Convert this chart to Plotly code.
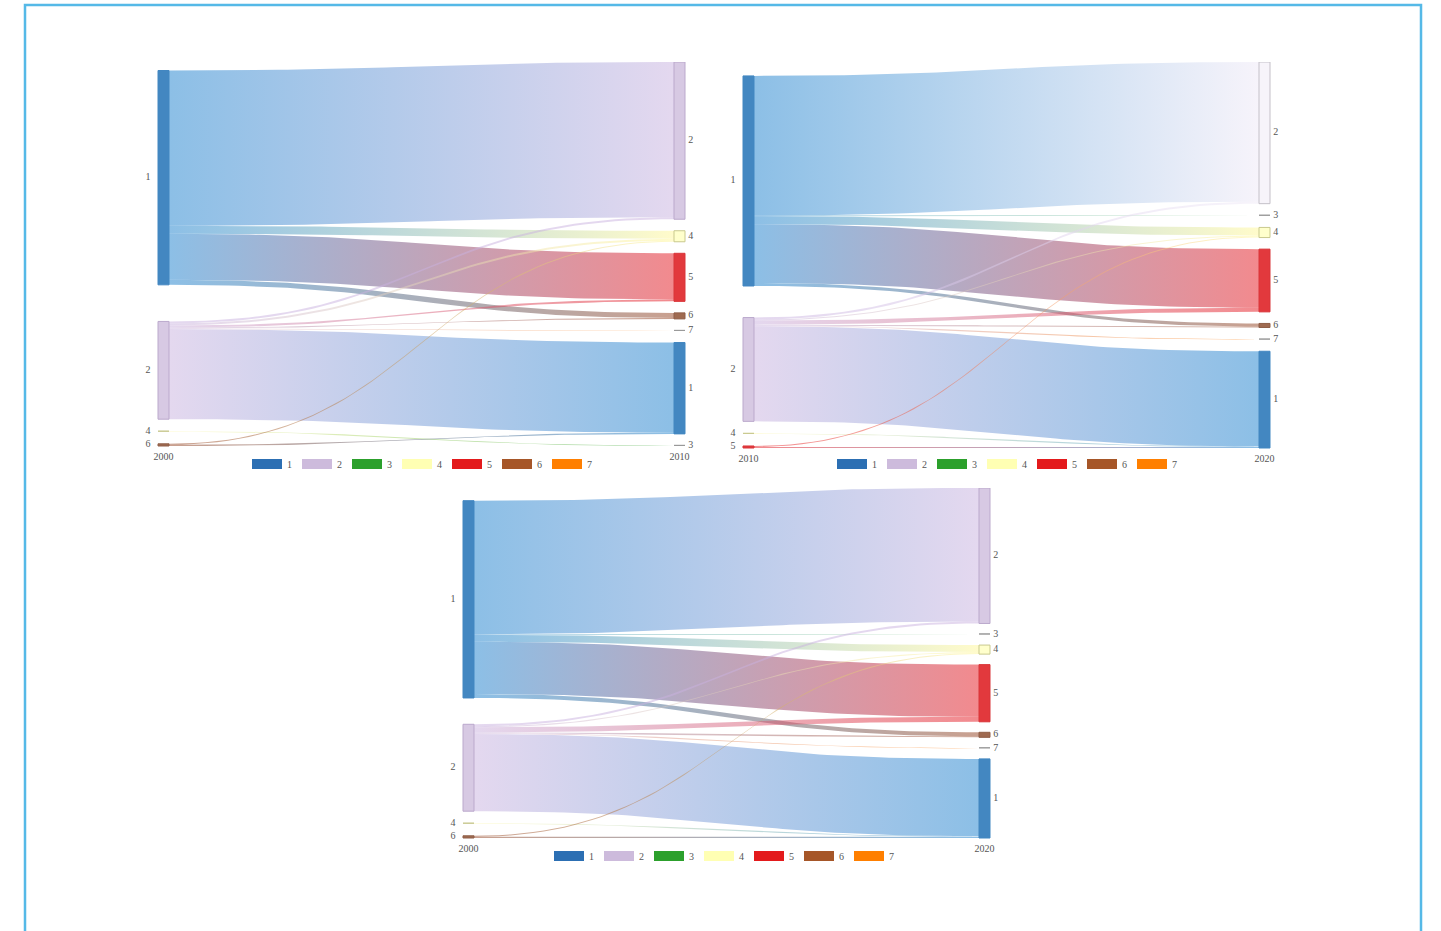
import numpy as np
import plotly.graph_objects as go

FIG_W, FIG_H = 1441, 931

# ---------------------------------------------------------------- data
categories = ['1', '2', '3', '4', '5', '6', '7']

# 2000 -> 2010
p1_years = ['2000', '2010']
p1_left = ['1', '2', '4', '6']
p1_right = ['2', '4', '5', '6', '7', '1', '3']
p1_src = ['1', '1', '1', '1', '2', '2', '2', '2', '2', '2', '4', '6', '6']
p1_tgt = ['2', '4', '5', '6', '1', '2', '4', '5', '6', '7', '3', '4', '1']
p1_val = [155, 8, 46, 5, 90, 2, 2, 2, 1, 0.6, 0.6, 1, 1.2]

# 2010 -> 2020
p2_years = ['2010', '2020']
p2_left = ['1', '2', '4', '5']
p2_right = ['2', '3', '4', '5', '6', '7', '1']
p2_src = ['1', '1', '1', '1', '1', '2', '2', '2', '2', '2', '2', '4', '5', '5']
p2_tgt = ['2', '3', '4', '5', '6', '1', '2', '4', '5', '6', '7', '1', '4', '1']
p2_val = [138, 0.6, 8, 58, 3, 94, 2, 1, 4, 1, 0.6, 0.6, 1, 1]

# 2000 -> 2020
p3_years = ['2000', '2020']
p3_left = ['1', '2', '4', '6']
p3_right = ['2', '3', '4', '5', '6', '7', '1']
p3_src = ['1', '1', '1', '1', '1', '2', '2', '2', '2', '2', '2', '4', '6', '6']
p3_tgt = ['2', '3', '4', '5', '6', '1', '2', '4', '5', '6', '7', '1', '4', '1']
p3_val = [133, 0.6, 7, 52, 4, 77, 2, 1, 5, 1, 0.6, 0.6, 1, 1.2]

# ---------------------------------------------------------------- styles
FONT = 'Liberation Serif'
legend_color = {'1': '#2c6fb3', '2': '#cdbbdc', '3': '#2ca02c', '4': '#ffffb3',
                '5': '#e31a1c', '6': '#a65628', '7': '#ff7f00'}
node_fill = {'1': '#4387c1', '2': '#d7c9e3', '3': '#7fc47f', '4': '#ffffcc',
             '5': '#e2393d', '6': '#9f6a50', '7': '#fdae6b'}
node_line = {'1': '#4387c1', '2': '#bba9cc', '3': '#999999', '4': '#c9c98e',
             '5': '#d9363a', '6': '#8f5f48', '7': '#999999'}
link_rgb = {'1': (25, 127, 205), '2': (201, 177, 223), '3': (44, 160, 44),
            '4': (255, 247, 150), '5': (229, 21, 29), '6': (147, 65, 31),
            '7': (255, 127, 14)}
LINK_ALPHA = 0.5
FILL_RATIO = 0.82
NODE_PX = 11
PAD_PX = 12
SIDE_PX = 30      # room for node labels beside each column
BELOW_PX = 22     # room for the year captions under the columns
YEAR_DROP_PX = 6

panels = [
    dict(years=p1_years, left=p1_left, right=p1_right, src=p1_src, tgt=p1_tgt,
         val=p1_val, box=(158, 685, 62, 446), legend='legend', legend_at=(422, 464)),
    dict(years=p2_years, left=p2_left, right=p2_right, src=p2_src, tgt=p2_tgt,
         val=p2_val, box=(743, 1270, 62, 448), legend='legend2', legend_at=(1007, 464),
         right_style={'2': dict(fill='#f7f4fa', line='#c4c0c8', rgb=(238, 232, 246))}),
    dict(years=p3_years, left=p3_left, right=p3_right, src=p3_src, tgt=p3_tgt,
         val=p3_val, box=(463, 990, 488, 838), legend='legend3', legend_at=(724, 856)),
]


def rgba(rgb, a):
    return 'rgba(%d,%d,%d,%.2f)' % (rgb[0], rgb[1], rgb[2], a)


def justify(nodes, totals, height):
    """Stack a column top to bottom with equal gaps filling the height."""
    s = sum(totals[n] for n in nodes)
    gap = (height - s) / (len(nodes) - 1)
    pos, y = {}, 0.0
    for n in nodes:
        pos[n] = [y, y + totals[n]]
        y += totals[n] + gap
    return pos


def relax(nodes, totals, partners, other_pos, height, pad):
    """Centre each node on its partners, then resolve overlaps in order."""
    want = {}
    for n in nodes:
        w = sum(v for _, v in partners[n])
        c = sum(v * (other_pos[o][0] + other_pos[o][1]) / 2 for o, v in partners[n]) / w
        want[n] = c - totals[n] / 2
    pos, y = {}, 0.0
    for n in nodes:
        y0 = max(want[n], y)
        pos[n] = [y0, y0 + totals[n]]
        y = y0 + totals[n] + pad
    limit = height
    for n in reversed(nodes):
        if pos[n][1] > limit:
            d = pos[n][1] - limit
            pos[n] = [pos[n][0] - d, pos[n][1] - d]
        limit = pos[n][0] - pad
    return pos


def bezier(xa, xb, ya, yb, t):
    xm = (xa + xb) / 2
    x = (1 - t) ** 3 * xa + 3 * (1 - t) ** 2 * t * xm + 3 * (1 - t) * t ** 2 * xm + t ** 3 * xb
    y = (1 - t) ** 3 * ya + 3 * (1 - t) ** 2 * t * ya + 3 * (1 - t) * t ** 2 * yb + t ** 3 * yb
    return x, y


fig = go.Figure()
layout_axes = {}
label_font = dict(family=FONT, size=10, color='#555555')

for i, p in enumerate(panels, start=1):
    xa_name = 'x' if i == 1 else 'x%d' % i
    ya_name = 'y' if i == 1 else 'y%d' % i
    px0, px1, py0, py1 = p['box']
    span_x = px1 - px0
    nw = NODE_PX / span_x
    side = SIDE_PX / span_x
    rstyle = p.get('right_style', {})

    links = list(zip(p['src'], p['tgt'], p['val']))
    out_tot = {n: 0.0 for n in p['left']}
    in_tot = {n: 0.0 for n in p['right']}
    partners = {n: [] for n in p['left']}
    for s, t, v in links:
        out_tot[s] += v
        in_tot[t] += v
        partners[s].append((t, v))
    H = max(sum(out_tot.values()), sum(in_tot.values())) / FILL_RATIO
    unit = H / (py1 - py0)          # data units per pixel, vertically
    rpos = justify(p['right'], in_tot, H)
    lpos = relax(p['left'], out_tot, partners, rpos, H, PAD_PX * unit)

    # stack link ends inside each node
    s_off = {n: lpos[n][0] for n in p['left']}
    t_off = {n: rpos[n][0] for n in p['right']}
    s_band, t_band = {}, {}
    for k in sorted(range(len(links)), key=lambda k: (lpos[links[k][0]][0], rpos[links[k][1]][0])):
        s, t, v = links[k]
        s_band[k] = (s_off[s], s_off[s] + v)
        s_off[s] += v
    for k in sorted(range(len(links)), key=lambda k: (rpos[links[k][1]][0], lpos[links[k][0]][0])):
        s, t, v = links[k]
        t_band[k] = (t_off[t], t_off[t] + v)
        t_off[t] += v

    tt = np.linspace(0, 1, 60)
    for k, (s, t, v) in enumerate(links):
        (ys0, ys1), (yt0, yt1) = s_band[k], t_band[k]
        xt, ytop = bezier(nw, 1 - nw, ys0, yt0, tt)
        xb, ybot = bezier(1 - nw, nw, yt1, ys1, tt)
        c0 = rgba(link_rgb[s], LINK_ALPHA)
        c1 = rgba(rstyle.get(t, {}).get('rgb', link_rgb[t]), LINK_ALPHA)
        fig.add_trace(go.Scatter(
            x=np.concatenate([xt, xb]), y=np.concatenate([ytop, ybot]),
            mode='lines', fill='toself', line=dict(width=0),
            fillgradient=dict(type='horizontal', colorscale=[[0, c0], [1, c1]]),
            hoverinfo='skip', showlegend=False, xaxis=xa_name, yaxis=ya_name))

    # nodes
    for col, pos, x0 in (('L', lpos, 0.0), ('R', rpos, 1 - nw)):
        for n, (y0, y1) in pos.items():
            st = rstyle.get(n, {}) if col == 'R' else {}
            fig.add_trace(go.Scatter(
                x=[x0, x0 + nw, x0 + nw, x0, x0], y=[y0, y0, y1, y1, y0],
                mode='lines', fill='toself',
                fillcolor=st.get('fill', node_fill[n]),
                line=dict(color=st.get('line', node_line[n]), width=1),
                hoverinfo='skip', showlegend=False, xaxis=xa_name, yaxis=ya_name))

    # node labels
    fig.add_trace(go.Scatter(
        x=[-0.014] * len(lpos), y=[(a + b) / 2 for a, b in lpos.values()],
        text=list(lpos.keys()), mode='text', textposition='middle left',
        textfont=label_font, cliponaxis=False,
        hoverinfo='skip', showlegend=False, xaxis=xa_name, yaxis=ya_name))
    fig.add_trace(go.Scatter(
        x=[1.006] * len(rpos), y=[(a + b) / 2 for a, b in rpos.values()],
        text=list(rpos.keys()), mode='text', textposition='middle right',
        textfont=label_font, cliponaxis=False,
        hoverinfo='skip', showlegend=False, xaxis=xa_name, yaxis=ya_name))
    # column years
    fig.add_trace(go.Scatter(
        x=[nw / 2, 1 - nw / 2], y=[H + YEAR_DROP_PX * unit] * 2, text=p['years'],
        mode='text', textposition='bottom center', textfont=label_font, cliponaxis=False,
        hoverinfo='skip', showlegend=False, xaxis=xa_name, yaxis=ya_name))

    # legend entries
    for c in categories:
        fig.add_trace(go.Scatter(
            x=[None], y=[None], mode='lines', name=c,
            line=dict(color=legend_color[c], width=10),
            legend=p['legend'], showlegend=True, hoverinfo='skip',
            xaxis=xa_name, yaxis=ya_name))

    axk = 'xaxis' if i == 1 else 'xaxis%d' % i
    ayk = 'yaxis' if i == 1 else 'yaxis%d' % i
    layout_axes[axk] = dict(domain=[(px0 - SIDE_PX) / FIG_W, (px1 + SIDE_PX) / FIG_W],
                            range=[-side, 1 + side],
                            visible=False, fixedrange=True, anchor=ya_name)
    layout_axes[ayk] = dict(domain=[1 - (py1 + BELOW_PX) / FIG_H, 1 - py0 / FIG_H],
                            range=[H + BELOW_PX * unit, 0],
                            visible=False, fixedrange=True, anchor=xa_name)
    lx, ly = p['legend_at']
    layout_axes[p['legend']] = dict(
        orientation='h', x=lx / FIG_W, y=1 - ly / FIG_H, xanchor='center', yanchor='middle',
        font=label_font, bgcolor='rgba(0,0,0,0)',
        itemwidth=30, itemclick=False, itemdoubleclick=False)

fig.update_layout(
    width=FIG_W, height=FIG_H,
    margin=dict(l=0, r=0, t=0, b=0),
    paper_bgcolor='white', plot_bgcolor='white',
    shapes=[dict(type='rect', xref='paper', yref='paper',
                 x0=25 / FIG_W, x1=1421 / FIG_W, y0=-0.05, y1=1 - 5 / FIG_H,
                 line=dict(color='#55b9e7', width=2.5), layer='above')],
    **layout_axes)

fig.write_html('out.html')
